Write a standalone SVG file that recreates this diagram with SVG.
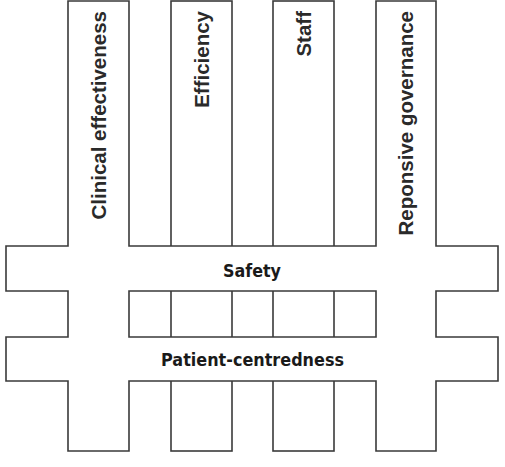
<svg xmlns="http://www.w3.org/2000/svg" width="505" height="467" viewBox="0 0 505 467">
<style>
.box{fill:#fff;stroke:#3a3a3a;stroke-width:1.6}
.vt{font-family:"Liberation Sans",Arial,sans-serif;font-weight:bold;font-size:20.5px;fill:#2a2a2a;text-anchor:end}
.ht{font-family:"DejaVu Sans",Verdana,sans-serif;font-weight:bold;font-size:18.5px;fill:#1a1a1a;text-anchor:middle}
</style>
<rect width="505" height="467" fill="#fff"/>
<g id="connectors"></g>
<g id="efficiency">
<rect class="box" x="171" y="1" width="61" height="450"/>
<text class="vt" transform="translate(208.5,11) rotate(-90)">Efficiency</text>
</g>
<g id="staff">
<rect class="box" x="273" y="1" width="61" height="450"/>
<text class="vt" transform="translate(310.5,11) rotate(-90)">Staff</text>
</g>
<g id="frame">
<path fill="#fff" stroke="#3a3a3a" stroke-width="1.6" fill-rule="evenodd" d="M68,1 H129 V246 H376 V1 H436 V246 H498 V291 H436 V337 H498 V381 H436 V451 H376 V381 H129 V451 H68 V381 H6 V337 H68 V291 H6 V246 H68 Z M129,291 H376 V337 H129 Z"/>
</g>
<g id="clinical-effectiveness">
<text class="vt" transform="translate(105.8,11) rotate(-90)">Clinical effectiveness</text>
</g>
<g id="reponsive-governance">
<text class="vt" transform="translate(413,11) rotate(-90)">Reponsive governance</text>
</g>
<g id="safety">
<text class="ht" x="252" y="276.5" textLength="58" lengthAdjust="spacingAndGlyphs">Safety</text>
</g>
<g id="patient-centredness">
<text class="ht" x="252.5" y="366" textLength="183" lengthAdjust="spacingAndGlyphs">Patient-centredness</text>
</g>
</svg>
